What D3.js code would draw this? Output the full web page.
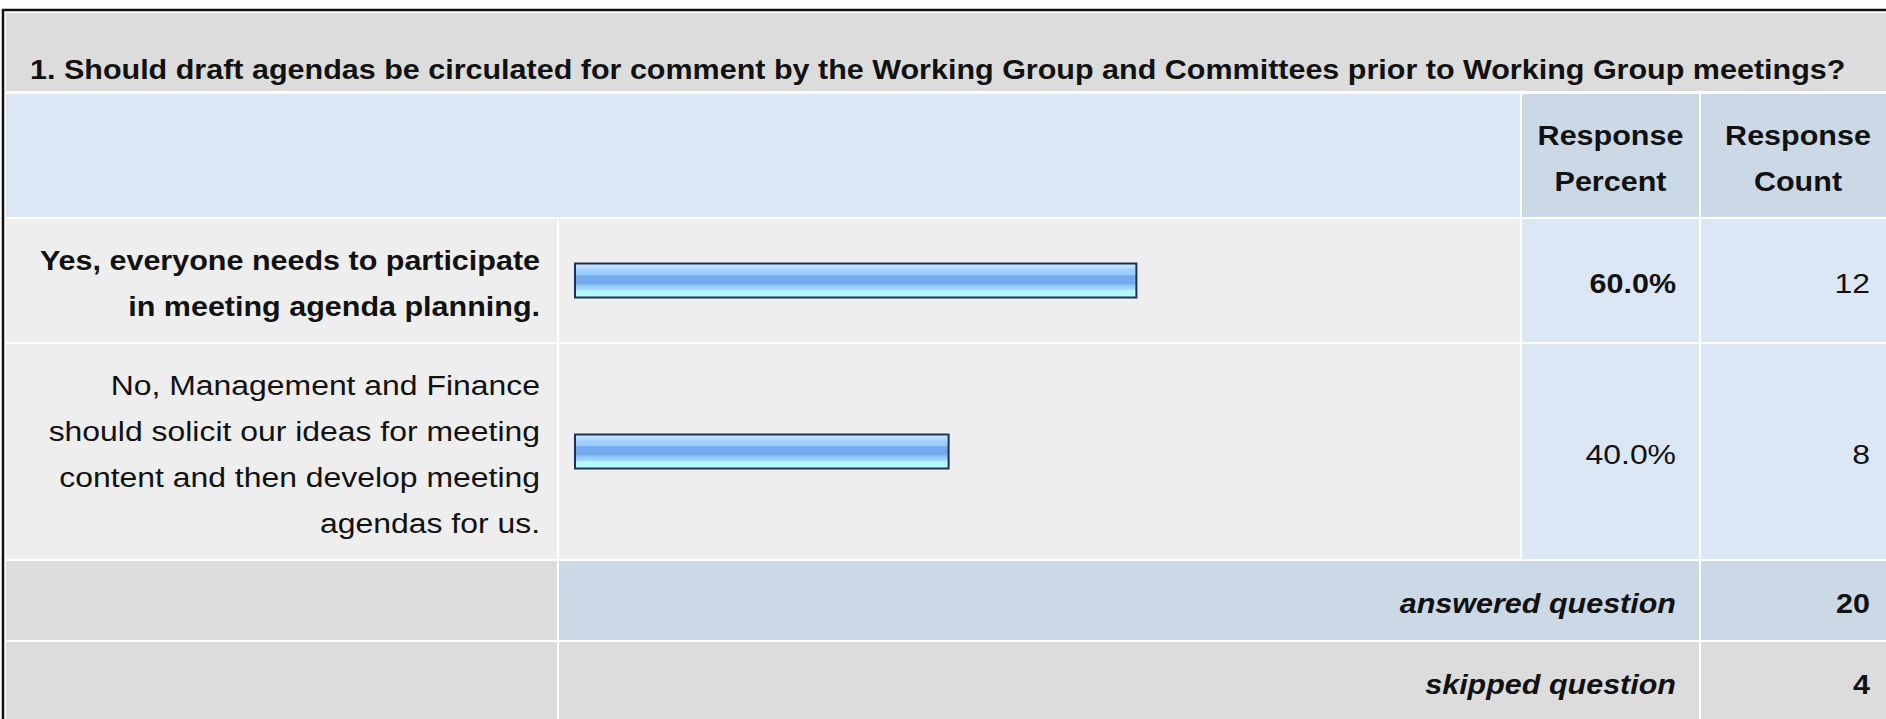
<!DOCTYPE html>
<html>
<head>
<meta charset="utf-8">
<script src="https://cdn.jsdelivr.net/npm/d3@7"></script>
<style>
  html, body { margin: 0; background: #fff; }
  svg { display: block; }
</style>
</head>
<body>
<svg id="chart" width="1886" height="719"></svg>
<script>
const question = '1. Should draft agendas be circulated for comment by the Working Group and Committees prior to Working Group meetings?';
const headerLabels = [['Response', 'Percent'], ['Response', 'Count']];
const answerLines = [
  ['Yes, everyone needs to participate', 'in meeting agenda planning.'],
  ['No, Management and Finance', 'should solicit our ideas for meeting', 'content and then develop meeting', 'agendas for us.'],
];
const percents = [60.0, 40.0];
const counts = [12, 8];
const summaryLabels = ['answered question', 'skipped question'];
const summaryCounts = [20, 4];

const svg = d3.select('#chart');
const fs = 28;       // font size
// the screenshot is a little stretched sideways, regular text more so
const sxBold = 1.09;
const sxNormal = 1.14;
const lineH = 46;
const gap = 2;

// column edges
const colLabel = [6, 557];
const colBar = [559, 1520];
const colPct = [1522, 1699];
const colCnt = [1701, 1895];

const x = d3.scaleLinear().domain([0, 100]).range([574, 1513]);

const grey = '#dcdcdc';
const bodyGrey = '#eeeeee';
const lightBlue = '#dce7f5';
const darkBlue = '#cbd8e6';

const defs = svg.append('defs');
const grad = defs.append('linearGradient')
  .attr('id', 'barGrad')
  .attr('x1', 0).attr('y1', 0).attr('x2', 0).attr('y2', 1);
[
  [0, '#cde7ff'], [0.08, '#c2e1ff'], [0.15, '#a9d4ff'], [0.33, '#96caff'],
  [0.36, '#74aaec'], [0.6, '#74aaec'], [0.63, '#8dc4fe'], [0.76, '#a3d8ff'],
  [0.8, '#b3f7ff'], [1, '#b3f9ff'],
].forEach(([o, c]) => grad.append('stop').attr('offset', o).attr('stop-color', c));

function cell(x0, x1, y0, h, fill) {
  svg.append('rect')
    .attr('x', x0).attr('y', y0)
    .attr('width', x1 - x0).attr('height', h)
    .attr('fill', fill);
}

function label(lines, tx, cy, anchor, weight, style) {
  const n = lines.length;
  const first = cy - (n * lineH) / 2 + lineH / 2 + 12;
  const sx = weight === 'bold' ? sxBold : sxNormal;
  lines.forEach((t, i) => {
    svg.append('text')
      .attr('transform', `translate(${tx},${first + i * lineH}) scale(${sx},1)`)
      .attr('text-anchor', anchor)
      .attr('font-family', 'Liberation Sans, Arial, sans-serif')
      .attr('font-size', fs)
      .attr('font-weight', weight || 'normal')
      .attr('font-style', style || 'normal')
      .attr('fill', '#111')
      .text(t);
  });
}

// title band
cell(colLabel[0], 1886, 13, 78, grey);
label([question], 30, 67, 'start', 'bold');

// header band
let y = 94;
const headH = 123;
cell(colLabel[0], colBar[1], y, headH, lightBlue);
cell(colPct[0], colPct[1], y, headH, darkBlue);
cell(colCnt[0], colCnt[1], y, headH, darkBlue);
label(headerLabels[0], (colPct[0] + colPct[1]) / 2, y + headH / 2, 'middle', 'bold');
label(headerLabels[1], (colCnt[0] + colCnt[1]) / 2, y + headH / 2, 'middle', 'bold');
y += headH + gap;

// answer rows
const maxPct = d3.max(percents);
answerLines.forEach((lines, i) => {
  const h = lines.length * lineH + 31;
  const cy = y + h / 2;
  const w = percents[i] === maxPct ? 'bold' : 'normal';
  cell(colLabel[0], colLabel[1], y, h, bodyGrey);
  cell(colBar[0], colBar[1], y, h, bodyGrey);
  cell(colPct[0], colPct[1], y, h, lightBlue);
  cell(colCnt[0], colCnt[1], y, h, lightBlue);
  label(lines, 540, cy, 'end', w);

  svg.append('rect')
    .attr('x', x(0) + 1).attr('y', cy - 17)
    .attr('width', x(percents[i]) - x(0) - 2).attr('height', 34)
    .attr('fill', 'url(#barGrad)')
    .attr('stroke', '#1c3354')
    .attr('stroke-width', 2);

  label([d3.format('.1f')(percents[i]) + '%'], 1676, cy, 'end', w);
  label([String(counts[i])], 1870, cy, 'end', 'normal');
  y += h + gap;
});

// summary rows
summaryLabels.forEach((t, i) => {
  const h = 79;
  const cy = y + h / 2;
  const fill = i === 0 ? darkBlue : grey;
  cell(colLabel[0], colLabel[1], y, h, grey);
  cell(colBar[0], colPct[1], y, h, fill);
  cell(colCnt[0], colCnt[1], y, h, fill);
  label([t], 1676, cy, 'end', 'bold', 'italic');
  label([String(summaryCounts[i])], 1870, cy, 'end', 'bold');
  y += h + gap;
});

// outer frame (left and top edges only are in view)
svg.append('line').attr('x1', 3).attr('y1', 9).attr('x2', 3).attr('y2', 719)
  .attr('stroke', '#111').attr('stroke-width', 2.5);
svg.append('line').attr('x1', 2).attr('y1', 10).attr('x2', 1886).attr('y2', 10)
  .attr('stroke', '#111').attr('stroke-width', 2.5);
</script>
</body>
</html>
